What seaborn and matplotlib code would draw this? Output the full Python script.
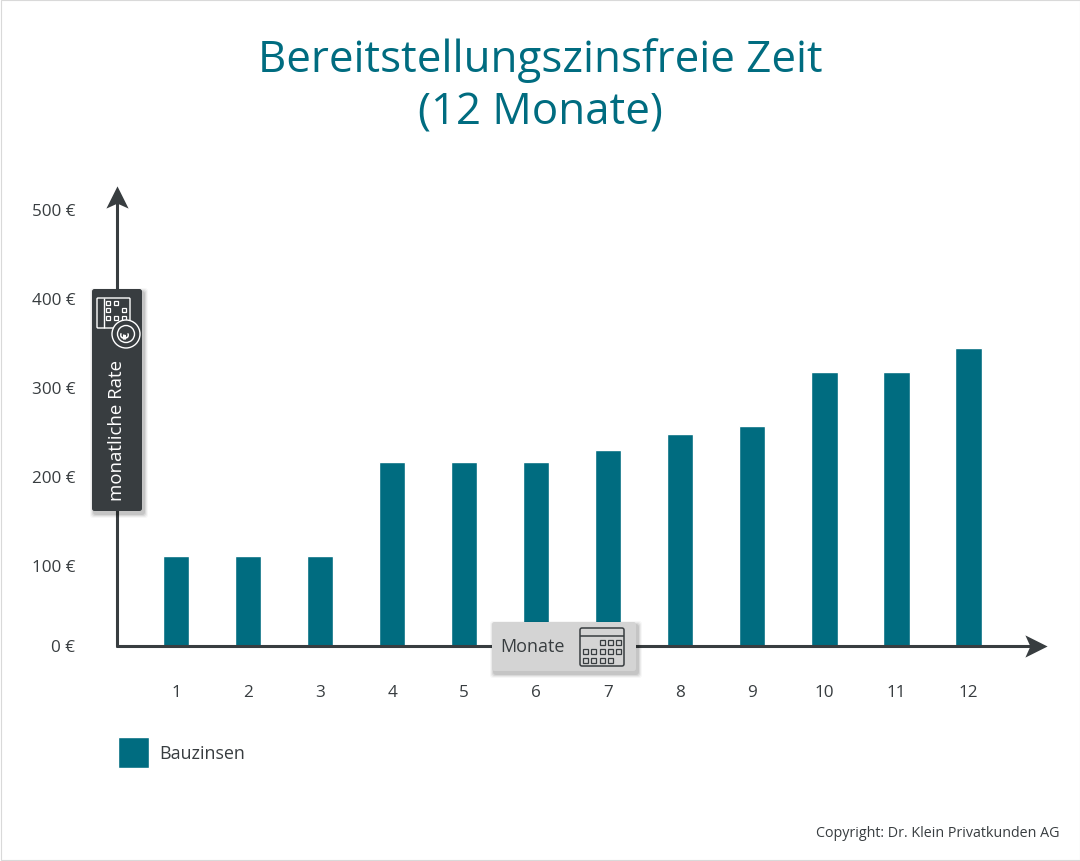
import matplotlib
matplotlib.use('Agg')
import matplotlib.pyplot as plt
import seaborn as sns
from matplotlib.path import Path
from matplotlib.patches import FancyBboxPatch, Rectangle, Circle
from matplotlib.transforms import Affine2D

W, H = 1080, 862
TEAL = '#006c80'
DARK = '#383d40'

months = ['1', '2', '3', '4', '5', '6', '7', '8', '9', '10', '11', '12']
bauzinsen = [110, 110, 110, 216, 216, 216, 230, 247, 257, 317, 317, 344]
y_ticks = [11, 100, 200, 300, 400, 500]
y_labels = ['0 €', '100 €', '200 €', '300 €', '400 €', '500 €']

sns.set_theme(style='white')
plt.rcParams['font.family'] = ['Open Sans', 'DejaVu Sans']

fig = plt.figure(figsize=(W / 100, H / 100), dpi=100, facecolor='white')
ax = fig.add_axes([117 / W, (H - 646.5) / H, 929 / W, 459.5 / H])
ax.patch.set_alpha(0)

sns.barplot(x=months, y=bauzinsen, color=TEAL, saturation=1, width=0.37, ax=ax, label='Bauzinsen')
ax.set_xlim(-0.82, 12.08)
ax.set_ylim(10, 526)
ax.set_yticks(y_ticks, y_labels)
ax.tick_params(axis='y', length=0, pad=30, labelsize=12.3, labelcolor=DARK)
ax.tick_params(axis='x', length=0, pad=28, labelsize=12.3, labelcolor=DARK)
sns.despine(ax=ax, left=True, bottom=True)

# axis lines with stealth arrow heads
ax.plot([0, 0.995], [0, 0], transform=ax.transAxes, color=DARK, lw=2.2, clip_on=False, zorder=4)
ax.plot([0, 0], [0, 0.99], transform=ax.transAxes, color=DARK, lw=2.2, clip_on=False, zorder=4)
head_up = Path([(0, 1), (1, -1), (0, -0.55), (-1, -1), (0, 1)], closed=True)
head_right = Path([(1, 0), (-1, 1), (-0.55, 0), (-1, -1), (1, 0)], closed=True)
ax.plot(0, 0.977, marker=head_up, ms=16, transform=ax.transAxes, color=DARK, mew=0, clip_on=False, zorder=4)
ax.plot(0.989, 0, marker=head_right, ms=16, transform=ax.transAxes, color=DARK, mew=0, clip_on=False, zorder=4)

leg = ax.legend(loc='upper left', bbox_to_anchor=(117.5 / W, (H - 738) / H), bbox_transform=fig.transFigure,
                frameon=False, fontsize=12.9, borderpad=0, borderaxespad=0, handlelength=1.76,
                handleheight=2.3, handletextpad=0.55, labelcolor=DARK)

# helper transform: reference pixels, origin top left
px = Affine2D().scale(1 / W, -1 / H).translate(0, 1) + fig.transFigure


def add(patch, z=5):
    patch.set_transform(px)
    patch.set_zorder(z)
    patch.set_clip_on(False)
    fig.add_artist(patch)


def box(x0, y0, x1, y1, color):
    # soft drop shadow, then the box itself
    for grow, alpha in [(4, 0.03), (3, 0.05), (2, 0.07), (1, 0.09)]:
        add(FancyBboxPatch((x0 + 2 - grow, y0 + 3 - grow), x1 - x0 + 2 * grow, y1 - y0 + 2 * grow,
                           boxstyle='round,pad=0,rounding_size=3', fc='black', ec='none', alpha=alpha), 5)
    add(FancyBboxPatch((x0, y0), x1 - x0, y1 - y0, boxstyle='round,pad=0,rounding_size=2.5', fc=color, ec='none'), 6)


# dark box on the y axis with card icon
box(92, 290, 142, 512, DARK)
add(FancyBboxPatch((97, 299), 33, 30, boxstyle='round,pad=0,rounding_size=1', fc='none', ec='white', lw=1), 7)
add(Rectangle((104, 299), 0, 30, fc='none', ec='white', lw=1), 7)
for bx, by in [(108, 304), (116, 304), (108, 311), (124, 311), (108, 319), (116, 319), (124, 319)]:
    add(Rectangle((bx - 2, by - 2), 4, 4, fc='none', ec='white', lw=0.9), 7)
add(Circle((126, 335), 14, fc=DARK, ec='white', lw=1), 8)
add(Circle((126, 335), 8.5, fc=DARK, ec='white', lw=1), 8)
fig.text(126 / W, 1 - 335 / H, '€', color='white', fontsize=9, fontweight='bold', rotation=90,
         ha='center', va='center', zorder=9)
fig.text(117 / W, 1 - 431 / H, 'monatliche Rate', color='white', fontsize=13.4, rotation=90,
         ha='center', va='center', zorder=9)

# grey box on the x axis with calendar icon
box(492, 623, 636, 672, '#d4d4d4')
fig.text(500 / W, 1 - 647 / H, 'Monate', color=DARK, fontsize=13, ha='left', va='center', zorder=9)
add(FancyBboxPatch((580, 629), 44, 38, boxstyle='round,pad=0,rounding_size=2', fc='none', ec=DARK, lw=1.1), 7)
add(Rectangle((580, 637), 44, 0, fc='none', ec=DARK, lw=1.1), 7)
cal_rows = [(643, [602, 610, 618]), (652, [585, 593, 602, 610, 618]), (661, [585, 593, 602, 610])]
for cy, xs in cal_rows:
    for cx in xs:
        add(Rectangle((cx - 2.5, cy - 2.5), 5, 5, fc='none', ec=DARK, lw=0.9), 7)

fig.text(540 / W, 1 - 61 / H, 'Bereitstellungszinsfreie Zeit', color=TEAL, fontsize=31.6, ha='center', va='center')
fig.text(540 / W, 1 - 113 / H, '(12 Monate)', color=TEAL, fontsize=31.6, ha='center', va='center')
fig.text(1060 / W, 1 - 834 / H, 'Copyright: Dr. Klein Privatkunden AG', color=DARK, fontsize=10.25, ha='right', va='center')

# thin outer frame
add(Rectangle((0.5, 0.5), W - 1, H - 1, fc='none', ec='#d9d9d9', lw=0.8), 10)

fig.savefig('out.png', dpi=100)
